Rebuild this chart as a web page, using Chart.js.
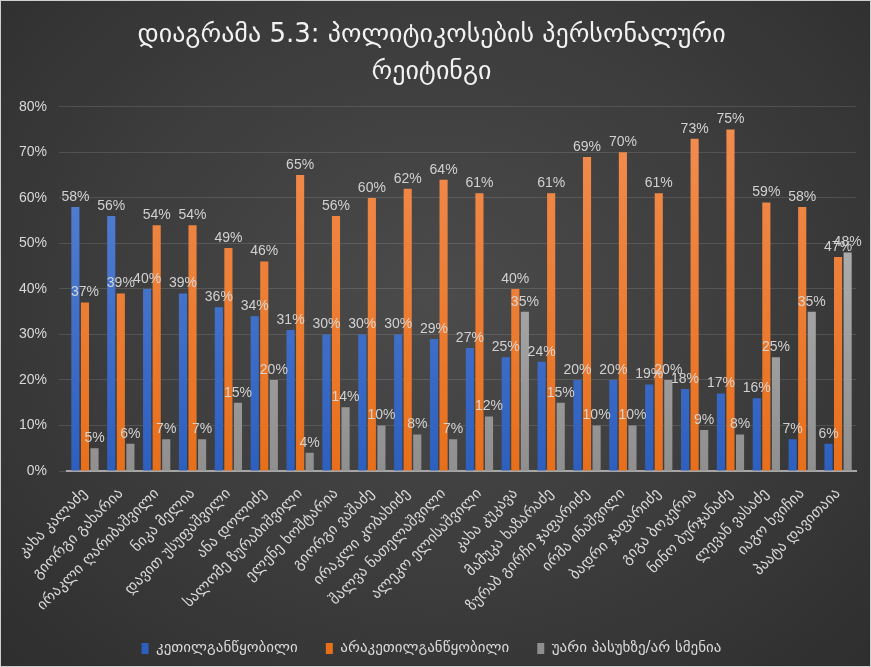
<!DOCTYPE html>
<html>
<head>
<meta charset="utf-8">
<script src="https://cdn.jsdelivr.net/npm/chart.js@4.4.1/dist/chart.umd.min.js"></script>
<style>
  html, body { margin: 0; padding: 0; }
  body {
    width: 871px; height: 667px; overflow: hidden;
    background: radial-gradient(ellipse at 50% 45%, #4b4b4b 0%, #3c3c3c 55%, #2e2e2e 100%);
  }
  #wrap { position: relative; width: 869px; height: 665px; border: 1px solid #cfcfcf; }
</style>
</head>
<body>
<div id="wrap"><canvas id="ratingChart" width="869" height="665"></canvas></div>
<script>
const categories = [
  "კახა კალაძე", "გიორგი გახარია", "ირაკლი ღარიბაშვილი", "ნიკა მელია",
  "დავით უსუფაშვილი", "ანა დოლიძე", "სალომე ზურაბიშვილი", "ელენე ხოშტარია",
  "გიორგი ვაშაძე", "ირაკლი კობახიძე", "შალვა ნათელაშვილი", "ალეკო ელისაშვილი",
  "კახა კუკავა", "მამუკა ხაზარაძე", "ზურაბ გირჩი ჯაფარიძე", "ირმა ინაშვილი",
  "ბადრი ჯაფარიძე", "გიგა ბოკერია", "ნინო ბურჯანაძე", "ლევან ვასაძე",
  "იაგო ხვიჩია", "პაატა დავითაია"
];
const favorable   = [58, 56, 40, 39, 36, 34, 31, 30, 30, 30, 29, 27, 25, 24, 20, 20, 19, 18, 17, 16, 7, 6];
const unfavorable = [37, 39, 54, 54, 49, 46, 65, 56, 60, 62, 64, 61, 40, 61, 69, 70, 61, 73, 75, 59, 58, 47];
const noAnswer    = [5, 6, 7, 7, 15, 20, 4, 14, 10, 8, 7, 12, 35, 15, 10, 10, 20, 9, 8, 25, 35, 48];
const yTicks = [0, 10, 20, 30, 40, 50, 60, 70, 80];

const titleLines = ["დიაგრამა 5.3: პოლიტიკოსების პერსონალური", "რეიტინგი"];
const seriesNames = ["კეთილგანწყობილი", "არაკეთილგანწყობილი", "უარი პასუხზე/არ სმენია"];

const textColor = "#d9d9d9";
const geoFont = "'DejaVu Sans', sans-serif";

// vertical gradient for bars, light on top
const barFill = function (top, bottom) {
  return function (context) {
    const area = context.chart.chartArea;
    if (!area) return bottom;
    const g = context.chart.ctx.createLinearGradient(0, area.top, 0, area.bottom);
    g.addColorStop(0, top);
    g.addColorStop(1, bottom);
    return g;
  };
};

// percent labels above every bar
const valueLabels = {
  id: "valueLabels",
  afterDatasetsDraw(chart) {
    const ctx = chart.ctx;
    ctx.save();
    ctx.font = "14px 'Liberation Sans', sans-serif";
    ctx.fillStyle = "rgba(217,217,217,0.95)";
    ctx.textAlign = "center";
    ctx.textBaseline = "bottom";
    chart.data.datasets.forEach(function (ds, i) {
      const meta = chart.getDatasetMeta(i);
      meta.data.forEach(function (bar, j) {
        ctx.fillText(ds.data[j] + "%", bar.x, bar.y - 3);
      });
    });
    ctx.restore();
  }
};

const ctx = document.getElementById("ratingChart").getContext("2d");
const chart = new Chart(ctx, {
  type: "bar",
  data: {
    labels: categories,
    datasets: [
      { label: seriesNames[0], data: favorable, backgroundColor: barFill("#5b87d6", "#2d5fbf") },
      { label: seriesNames[1], data: unfavorable, backgroundColor: barFill("#f28e52", "#e86f1a") },
      { label: seriesNames[2], data: noAnswer, backgroundColor: barFill("#bdbdbd", "#8f8f8f") }
    ]
  },
  options: {
    responsive: false,
    animation: false,
    datasets: { bar: { categoryPercentage: 0.8, barPercentage: 0.85 } },
    layout: { padding: { left: 6, right: 14, top: 4, bottom: 0 } },
    plugins: {
      title: {
        display: true,
        text: titleLines,
        color: "#f2f2f2",
        font: { family: geoFont, size: 26, weight: "normal", lineHeight: 1.42 },
        padding: { top: 12, bottom: 16 }
      },
      legend: {
        position: "bottom",
        labels: {
          color: textColor,
          font: { family: geoFont, size: 15 },
          boxWidth: 7,
          boxHeight: 11,
          padding: 28
        }
      },
      tooltip: { enabled: false }
    },
    scales: {
      x: {
        grid: { display: false },
        border: { color: "#a6a6a6", width: 2 },
        afterFit: function (scale) { scale.height = 142; },
        ticks: {
          color: textColor,
          font: { family: geoFont, size: 15 },
          minRotation: 45,
          maxRotation: 45,
          autoSkip: false,
          padding: 6
        }
      },
      y: {
        min: 0,
        max: 80,
        afterBuildTicks: function (axis) {
          axis.ticks = yTicks.map(function (v) { return { value: v }; });
        },
        grid: { color: "rgba(255,255,255,0.12)" },
        border: { display: false },
        ticks: {
          color: textColor,
          font: { family: "'Liberation Sans', sans-serif", size: 14 },
          padding: 12,
          callback: function (v) { return v + "%"; }
        }
      }
    }
  },
  plugins: [valueLabels]
});
</script>
</body>
</html>
